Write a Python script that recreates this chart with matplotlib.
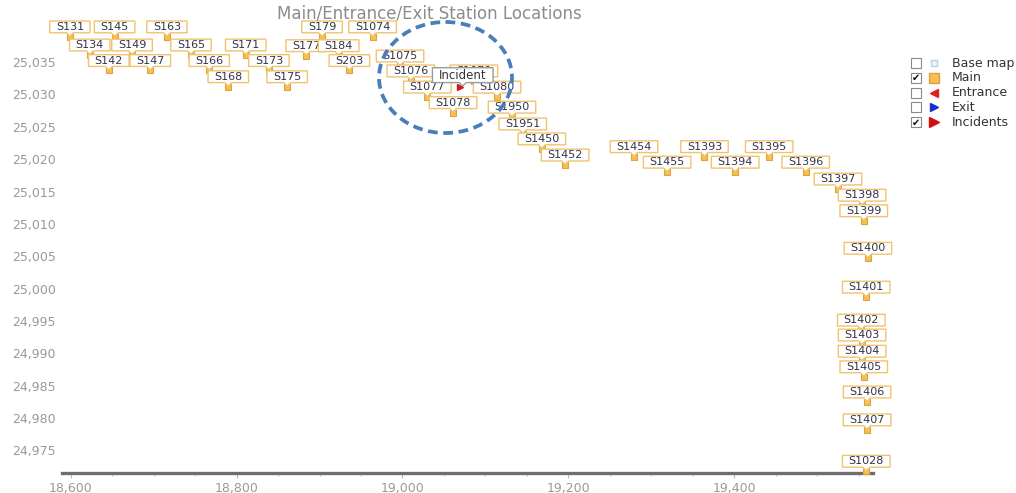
import matplotlib
matplotlib.use("Agg")
import matplotlib.pyplot as plt
from matplotlib.path import Path
from matplotlib.patches import Ellipse, Rectangle
from matplotlib.ticker import FuncFormatter, MultipleLocator

# station names and coordinates (easting, northing)
station_names = ["S131", "S134", "S145", "S149", "S142", "S147", "S163", "S165",
                 "S166", "S168", "S171", "S173", "S175", "S177", "S179", "S184",
                 "S203", "S1074", "S1075", "S1076", "S1077", "S1078", "S1079",
                 "S1080", "S1950", "S1951", "S1450", "S1452", "S1454", "S1455",
                 "S1393", "S1394", "S1395", "S1396", "S1397", "S1398", "S1399",
                 "S1400", "S1401", "S1402", "S1403", "S1404", "S1405", "S1406",
                 "S1407", "S1028"]
station_x = [18599, 18623, 18653, 18674, 18646, 18696, 18716, 18745,
             18767, 18790, 18811, 18839, 18861, 18884, 18903, 18923,
             18936, 18964, 18997, 19010, 19030, 19061, 19086,
             19114, 19132, 19145, 19168, 19196, 19279, 19319,
             19364, 19401, 19442, 19486, 19525, 19554, 19556,
             19561, 19559, 19553, 19554, 19554, 19556, 19560,
             19560, 19559]
station_y = [25038.9, 25036.1, 25038.9, 25036.1, 25033.7, 25033.7, 25038.9, 25036.1,
             25033.7, 25031.2, 25036.1, 25033.7, 25031.2, 25036.0, 25038.9, 25036.0,
             25033.7, 25038.9, 25034.4, 25032.1, 25029.6, 25027.2, 25032.1,
             25029.6, 25026.5, 25023.9, 25021.6, 25019.1, 25020.4, 25018.0,
             25020.4, 25018.0, 25020.4, 25018.0, 25015.4, 25012.9, 25010.5,
             25004.7, 24998.7, 24993.6, 24991.3, 24988.8, 24986.4, 24982.5,
             24978.2, 24971.8]

incident_x = [19069]
incident_y = [25031.2]

y_ticks = [24975, 24980, 24985, 24990, 24995, 25000, 25005, 25010,
           25015, 25020, 25025, 25030, 25035]
x_ticks = [18600, 18800, 19000, 19200, 19400]

legend_labels = ["Base map", "Main", "Entrance", "Exit", "Incidents"]
legend_checked = [False, True, False, False, True]


def callout_box(x0, y0, width, height, mutation_size):
    # label box with a little pointer at the bottom centre
    padx = 0.55 * mutation_size
    pady = 0.08 * mutation_size
    tip = 3.5
    l = x0 - padx
    r = x0 + width + padx
    b = y0 - pady
    t = y0 + height + pady
    c = (l + r) / 2
    verts = [(l, b), (c - tip, b), (c, b - tip), (c + tip, b), (r, b), (r, t), (l, t), (l, b)]
    codes = [Path.MOVETO] + [Path.LINETO] * 6 + [Path.CLOSEPOLY]
    return Path(verts, codes)


fig = plt.figure(figsize=(10.16, 4.93), dpi=100)
ax = fig.add_axes([0.0613, 0.0412, 0.798, 0.9183])

ax.set_xlim(18589.9, 19567.2)
ax.set_ylim(24971.57, 25041.5)

# axes look
for s in ["top", "right", "left"]:
    ax.spines[s].set_visible(False)
ax.spines["bottom"].set_color("#6e6e6e")
ax.spines["bottom"].set_linewidth(2.4)

ax.set_xticks(x_ticks)
ax.xaxis.set_minor_locator(MultipleLocator(50))
ax.xaxis.set_major_formatter(FuncFormatter(lambda v, p: f"{v:,.0f}"))
ax.tick_params(axis="x", which="major", length=3.5, width=0.8, color="#b8b8b8",
               labelsize=9, labelcolor="#999999", pad=3)
ax.tick_params(axis="x", which="minor", length=2.5, width=0.8, color="#c8c8c8")

ax.set_yticks(y_ticks)
ax.yaxis.set_major_formatter(FuncFormatter(lambda v, p: f"{v:,.0f}"))
ax.tick_params(axis="y", which="both", length=0, labelsize=9, labelcolor="#999999", pad=4.5)
# grid only on every other tick
ax.set_yticks(y_ticks[::2], minor=True)
ax.grid(True, which="minor", axis="y", color="#c4c4c4", linewidth=1)
ax.set_axisbelow(True)

# main station markers
ax.plot(station_x, station_y, "s", markersize=4, markerfacecolor="#f9be4f",
        markeredgecolor="#d9a441", markeredgewidth=0.8, linestyle="none",
        zorder=3, clip_on=False)

# station labels
for name, x, y in zip(station_names, station_x, station_y):
    ax.annotate(name, xy=(x, y), xytext=(0, 4.9), textcoords="offset pixels",
                ha="center", va="bottom", fontsize=8, color="#33334a", zorder=4,
                annotation_clip=False,
                bbox=dict(boxstyle=callout_box, facecolor="white",
                          edgecolor="#f0c36d", linewidth=1))

# incident marker and tooltip
ax.plot(incident_x, incident_y, ">", markersize=5, color="#d01818",
        linestyle="none", zorder=5)
ax.annotate("Incident", xy=(incident_x[0], incident_y[0]), xytext=(3, 5.0),
            textcoords="offset pixels", ha="center", va="bottom", fontsize=8.5,
            color="#333333", zorder=6,
            bbox=dict(boxstyle=callout_box, facecolor="white",
                      edgecolor="#9a9a9a", linewidth=1))

# overlay in pixel coordinates for title, legend and the dashed circle
ov = fig.add_axes([0, 0, 1, 1])
ov.set_xlim(0, 1016)
ov.set_ylim(493, 0)
ov.axis("off")
ov.patch.set_visible(False)

ov.text(429, 18.5, "Main/Entrance/Exit Station Locations", ha="center", va="baseline",
        fontsize=12, color="#8c8c8c")

ov.add_patch(Ellipse((445.5, 77.5), 133, 111, fill=False, edgecolor="#4a7dbb",
                     linewidth=2.7, linestyle=(0, (2.6, 1.5))))

icon_styles = [
    dict(marker="s", markersize=5, markerfacecolor="#eaf3fb", markeredgecolor="#b8d4ea"),
    dict(marker="s", markersize=6.5, markerfacecolor="#f9be4f", markeredgecolor="#d9a441"),
    dict(marker="<", markersize=6, color="#e02020"),
    dict(marker=">", markersize=6, color="#1830d0"),
    dict(marker=">", markersize=7.5, color="#d01010"),
]
for i, (lab, chk) in enumerate(zip(legend_labels, legend_checked)):
    yy = 63 + i * 14.8
    ov.add_patch(Rectangle((911, yy - 5), 10, 10, facecolor="white",
                           edgecolor="#8a8a8a", linewidth=0.8))
    if chk:
        ov.text(916, yy + 0.5, "\u2714", ha="center", va="center", fontsize=7, color="#111111")
    ov.plot([934], [yy], linestyle="none", **icon_styles[i])
    ov.text(952, yy, lab, ha="left", va="center", fontsize=9, color="#333333")

fig.savefig("out.png", dpi=100)
